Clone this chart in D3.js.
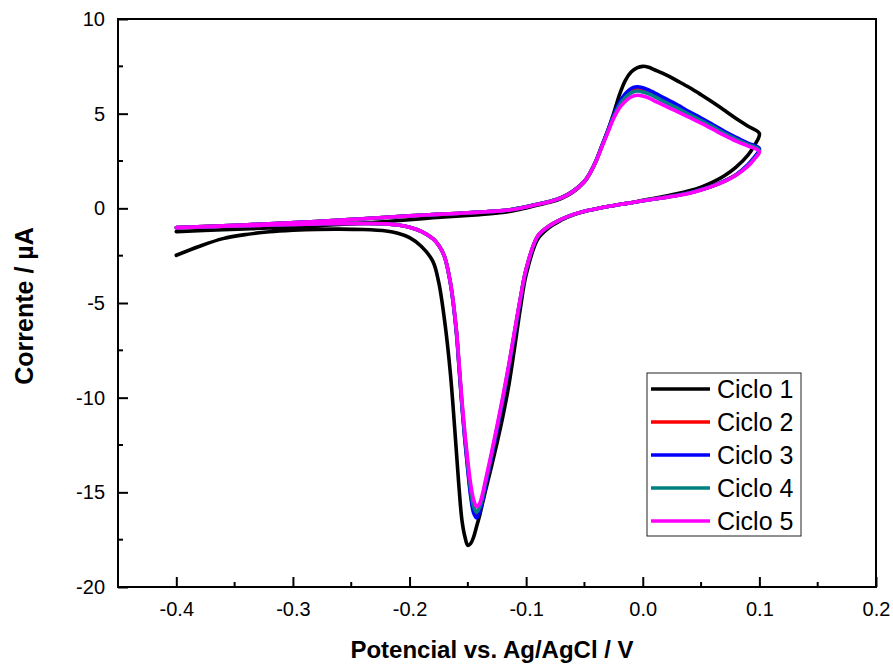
<!DOCTYPE html>
<html>
<head>
<meta charset="utf-8">
<script src="https://cdn.jsdelivr.net/npm/d3@7"></script>
<style>
  html, body { margin: 0; padding: 0; background: #fff; }
  svg { display: block; }
  text { font-family: Arial, "Liberation Sans", Helvetica, sans-serif; fill: #000; }
</style>
</head>
<body>
<svg id="chart" width="893" height="666"></svg>
<script>
// ---------------- DATA ----------------
const seriesNames = ["Ciclo 1", "Ciclo 2", "Ciclo 3", "Ciclo 4", "Ciclo 5"];
const seriesColors = ["#000000", "#ff0000", "#0000ff", "#008080", "#ff00ff"];

const xTickValues = [-0.4, -0.3, -0.2, -0.1, 0.0, 0.1, 0.2];
const xTickLabels = ["-0.4", "-0.3", "-0.2", "-0.1", "0.0", "0.1", "0.2"];
const xMinorTicks = [-0.35, -0.25, -0.15, -0.05, 0.05, 0.15];
const yTickValues = [-20, -15, -10, -5, 0, 5, 10];
const yTickLabels = ["-20", "-15", "-10", "-5", "0", "5", "10"];
const yMinorTicks = [-17.5, -12.5, -7.5, -2.5, 2.5, 7.5];

const xTitle = "Potencial vs. Ag/AgCl / V";
const yTitle = "Corrente / \u00B5A";

// Forward scan (lower branch), potential in V
const potForward = [
  -0.40, -0.38, -0.36, -0.34, -0.32, -0.30, -0.28, -0.26, -0.24, -0.22,
  -0.21, -0.20, -0.19, -0.18, -0.175, -0.17, -0.165, -0.16, -0.1575, -0.155,
  -0.1525, -0.15, -0.1475, -0.145, -0.1425, -0.14, -0.1375, -0.135, -0.13, -0.125,
  -0.12, -0.115, -0.11, -0.105, -0.10, -0.09, -0.08, -0.07, -0.06, -0.05,
  -0.04, -0.03, -0.02, -0.01, 0.00, 0.01, 0.02, 0.03, 0.04, 0.05,
  0.06, 0.07, 0.08, 0.09, 0.095, 0.10
];
// Reverse scan (upper branch), potential in V
const potReverse = [
  0.09, 0.08, 0.07, 0.06, 0.05, 0.04, 0.03, 0.02, 0.01, 0.005,
  0.00, -0.005, -0.01, -0.015, -0.02, -0.025, -0.03, -0.035, -0.04, -0.045,
  -0.05, -0.06, -0.07, -0.08, -0.09, -0.10, -0.11, -0.12, -0.14, -0.16,
  -0.18, -0.20, -0.24, -0.28, -0.32, -0.36, -0.40
];

// Currents (uA) on forward scan
const ciclo1Fwd = [
  -2.48, -2.0, -1.6, -1.38, -1.24, -1.16, -1.11, -1.10, -1.12, -1.2,
  -1.32, -1.55, -2.0, -2.8, -3.9, -5.9, -8.7, -12.7, -14.8, -16.5,
  -17.35, -17.8, -17.7, -17.35, -16.8, -16.25, -15.6, -14.95, -13.7, -12.4,
  -11.0, -9.4, -7.4, -5.3, -3.5, -1.62, -1.0, -0.63, -0.36, -0.17,
  -0.03, 0.1, 0.2, 0.3, 0.42, 0.53, 0.65, 0.78, 0.93, 1.12,
  1.38, 1.72, 2.18, 2.8, 3.25, 3.95
];
const ciclo2Fwd = [
  -1.02, -0.98, -0.95, -0.92, -0.88, -0.85, -0.82, -0.8, -0.8, -0.82,
  -0.88, -1.0, -1.22, -1.6, -1.95, -2.55, -3.92, -6.4, -8.4, -10.45,
  -12.2, -13.75, -15.1, -15.95, -16.25, -15.95, -15.4, -14.65, -13.2, -11.7,
  -10.1, -8.4, -6.6, -4.8, -3.22, -1.46, -0.92, -0.58, -0.33, -0.15,
  -0.03, 0.1, 0.2, 0.3, 0.4, 0.5, 0.59, 0.69, 0.81, 0.98,
  1.18, 1.44, 1.77, 2.26, 2.6, 3.12
];
const ciclo3Fwd = [
  -1.02, -0.98, -0.95, -0.92, -0.88, -0.85, -0.82, -0.8, -0.8, -0.82,
  -0.88, -1.0, -1.22, -1.6, -1.95, -2.55, -3.95, -6.45, -8.45, -10.5,
  -12.3, -13.85, -15.25, -16.1, -16.35, -16.05, -15.5, -14.75, -13.25, -11.75,
  -10.15, -8.45, -6.65, -4.82, -3.24, -1.47, -0.93, -0.58, -0.33, -0.15,
  -0.03, 0.1, 0.2, 0.3, 0.4, 0.5, 0.59, 0.7, 0.82, 0.99,
  1.19, 1.45, 1.78, 2.3, 2.65, 3.16
];
const ciclo4Fwd = [
  -1.02, -0.98, -0.95, -0.92, -0.88, -0.85, -0.82, -0.8, -0.8, -0.82,
  -0.88, -1.0, -1.22, -1.6, -1.95, -2.55, -3.92, -6.35, -8.3, -10.35,
  -12.05, -13.6, -14.9, -15.75, -16.05, -15.8, -15.3, -14.55, -13.1, -11.6,
  -10.05, -8.35, -6.55, -4.78, -3.21, -1.46, -0.92, -0.58, -0.33, -0.15,
  -0.03, 0.1, 0.2, 0.3, 0.4, 0.5, 0.58, 0.69, 0.81, 0.98,
  1.18, 1.43, 1.76, 2.25, 2.58, 3.08
];
const ciclo5Fwd = [
  -1.02, -0.98, -0.95, -0.92, -0.88, -0.85, -0.82, -0.8, -0.8, -0.82,
  -0.88, -1.0, -1.22, -1.6, -1.95, -2.55, -3.9, -6.3, -8.2, -10.2,
  -11.9, -13.35, -14.6, -15.4, -15.75, -15.6, -15.1, -14.4, -13.0, -11.5,
  -9.95, -8.3, -6.5, -4.75, -3.2, -1.45, -0.92, -0.58, -0.33, -0.15,
  -0.03, 0.1, 0.2, 0.3, 0.4, 0.49, 0.58, 0.68, 0.8, 0.97,
  1.17, 1.42, 1.75, 2.22, 2.55, 3.0
];

// Currents (uA) on reverse scan
const ciclo1Rev = [
  4.35, 4.75, 5.18, 5.6, 6.0, 6.38, 6.72, 7.05, 7.32, 7.45,
  7.5, 7.42, 7.2, 6.75, 6.0, 5.0, 4.1, 3.3, 2.5, 1.88,
  1.4, 0.85, 0.52, 0.32, 0.17, 0.02, -0.12, -0.22, -0.33, -0.42,
  -0.5, -0.6, -0.78, -0.92, -1.03, -1.13, -1.23
];
const ciclo2Rev = [
  3.42, 3.7, 4.02, 4.36, 4.7, 5.03, 5.37, 5.68, 6.0, 6.15,
  6.26, 6.31, 6.22, 5.95, 5.52, 4.86, 4.07, 3.3, 2.52, 1.9,
  1.43, 0.9, 0.56, 0.36, 0.22, 0.08, -0.04, -0.12, -0.2, -0.27,
  -0.33, -0.4, -0.55, -0.7, -0.82, -0.92, -1.02
];
const ciclo3Rev = [
  3.45, 3.75, 4.07, 4.42, 4.77, 5.1, 5.45, 5.78, 6.1, 6.25,
  6.37, 6.42, 6.33, 6.05, 5.6, 4.9, 4.1, 3.32, 2.53, 1.9,
  1.43, 0.9, 0.56, 0.36, 0.22, 0.08, -0.04, -0.12, -0.2, -0.27,
  -0.33, -0.4, -0.55, -0.7, -0.82, -0.92, -1.02
];
const ciclo4Rev = [
  3.38, 3.65, 3.96, 4.3, 4.63, 4.95, 5.28, 5.58, 5.9, 6.05,
  6.15, 6.2, 6.1, 5.85, 5.45, 4.82, 4.05, 3.29, 2.51, 1.89,
  1.42, 0.89, 0.56, 0.36, 0.22, 0.08, -0.04, -0.12, -0.2, -0.27,
  -0.33, -0.4, -0.55, -0.7, -0.82, -0.92, -1.02
];
const ciclo5Rev = [
  3.3, 3.55, 3.85, 4.18, 4.5, 4.8, 5.1, 5.38, 5.68, 5.83,
  5.93, 5.97, 5.88, 5.65, 5.3, 4.75, 4.0, 3.25, 2.5, 1.88,
  1.42, 0.88, 0.55, 0.35, 0.21, 0.07, -0.05, -0.12, -0.2, -0.27,
  -0.33, -0.4, -0.55, -0.7, -0.82, -0.92, -1.02
];

const forwardCurrents = [ciclo1Fwd, ciclo2Fwd, ciclo3Fwd, ciclo4Fwd, ciclo5Fwd];
const reverseCurrents = [ciclo1Rev, ciclo2Rev, ciclo3Rev, ciclo4Rev, ciclo5Rev];

// ---------------- CHART ----------------
const svg = d3.select("#chart");
const plot = { left: 118, right: 876, top: 19, bottom: 587 };

const x = d3.scaleLinear().domain([-0.45, 0.2]).range([plot.left, plot.right]);
const y = d3.scaleLinear().domain([-20, 10]).range([plot.bottom, plot.top]);

// Build series
const series = seriesNames.map((name, i) => {
  const pts = potForward.map((v, j) => ({ v, c: forwardCurrents[i][j] }))
    .concat(potReverse.map((v, j) => ({ v, c: reverseCurrents[i][j] })));
  return { name, color: seriesColors[i], pts };
});

const line = d3.line()
  .x(d => x(d.v))
  .y(d => y(d.c))
  .curve(d3.curveCatmullRom.alpha(0.5));

svg.append("g").selectAll("path")
  .data(series)
  .join("path")
  .attr("d", d => line(d.pts))
  .attr("fill", "none")
  .attr("stroke", d => d.color)
  .attr("stroke-width", 3.6)
  .attr("stroke-linejoin", "round")
  .attr("stroke-linecap", "round");

// Axes
const xAxis = d3.axisBottom(x)
  .tickValues(xTickValues)
  .tickFormat((d, i) => xTickLabels[i])
  .tickSizeInner(-10).tickSizeOuter(0).tickPadding(15);
const gx = svg.append("g").attr("transform", `translate(0,${plot.bottom})`).call(xAxis);
gx.select(".domain").remove();
gx.selectAll("line").attr("stroke", "#000").attr("stroke-width", 2);
gx.selectAll("text").attr("font-size", 20);

gx.selectAll(".minor").data(xMinorTicks).join("line")
  .attr("class", "minor")
  .attr("x1", d => x(d)).attr("x2", d => x(d))
  .attr("y1", 0).attr("y2", -5)
  .attr("stroke", "#000").attr("stroke-width", 2);

const yAxis = d3.axisLeft(y)
  .tickValues(yTickValues)
  .tickFormat((d, i) => yTickLabels[i])
  .tickSizeInner(-10).tickSizeOuter(0).tickPadding(13);
const gy = svg.append("g").attr("transform", `translate(${plot.left},0)`).call(yAxis);
gy.select(".domain").remove();
gy.selectAll("line").attr("stroke", "#000").attr("stroke-width", 2);
gy.selectAll("text").attr("font-size", 20);

gy.selectAll(".minor").data(yMinorTicks).join("line")
  .attr("class", "minor")
  .attr("y1", d => y(d)).attr("y2", d => y(d))
  .attr("x1", 0).attr("x2", 5)
  .attr("stroke", "#000").attr("stroke-width", 2);

// Frame
svg.append("rect")
  .attr("x", plot.left).attr("y", plot.top)
  .attr("width", plot.right - plot.left).attr("height", plot.bottom - plot.top)
  .attr("fill", "none").attr("stroke", "#000").attr("stroke-width", 2);

// Axis titles
svg.append("text")
  .attr("x", 492).attr("y", 658)
  .attr("text-anchor", "middle")
  .attr("font-size", 24).attr("font-weight", "bold")
  .text(xTitle);

svg.append("text")
  .attr("transform", "translate(33,306) rotate(-90)")
  .attr("text-anchor", "middle")
  .attr("font-size", 25).attr("font-weight", "bold")
  .text(yTitle);

// Legend
const legend = svg.append("g");
legend.append("rect")
  .attr("x", 647).attr("y", 373).attr("width", 154).attr("height", 163)
  .attr("fill", "#fff").attr("stroke", "#222").attr("stroke-width", 1);
const items = legend.selectAll("g.item").data(series).join("g")
  .attr("class", "item")
  .attr("transform", (d, i) => `translate(0,${389 + i * 33})`);
items.append("line")
  .attr("x1", 651).attr("x2", 710).attr("y1", 0).attr("y2", 0)
  .attr("stroke", d => d.color).attr("stroke-width", 3.6);
items.append("text")
  .attr("x", 717).attr("y", 0).attr("dy", "0.35em")
  .attr("font-size", 25)
  .text(d => d.name);
</script>
</body>
</html>
